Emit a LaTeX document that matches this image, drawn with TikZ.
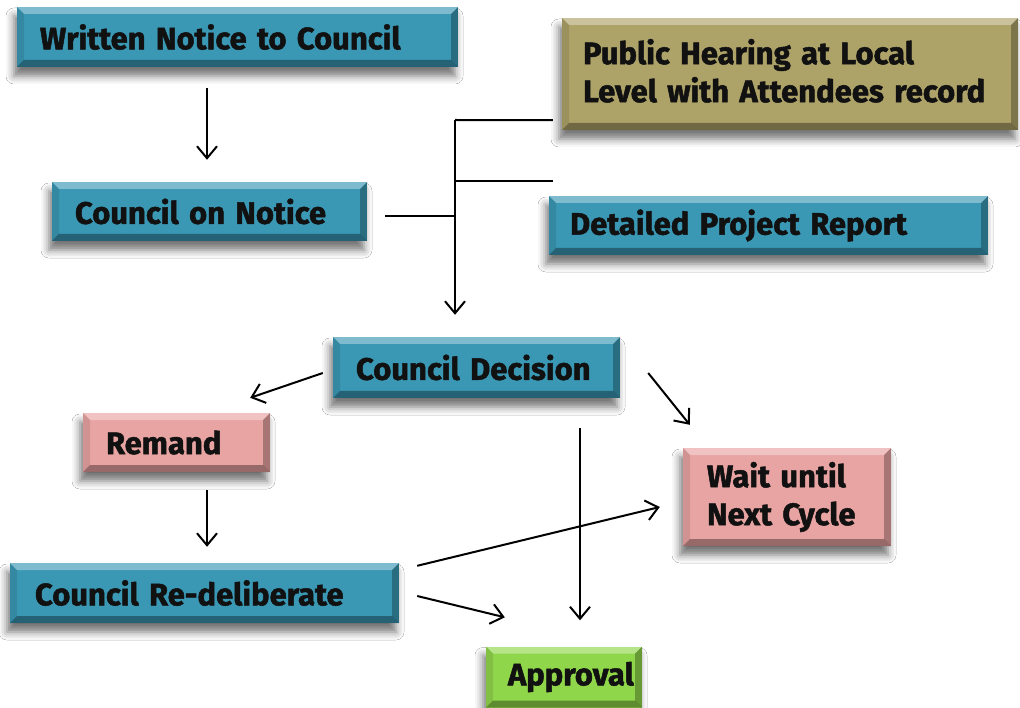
\documentclass[tikz,border=0pt]{standalone}
\usepackage{fontspec}
\setmainfont{Fira Sans}[BoldFeatures={FakeBold=1.6}]
\usetikzlibrary{arrows.meta,shadows.blur}
\definecolor{teal1}{HTML}{3A98B4}
\definecolor{olive1}{HTML}{ADA268}
\definecolor{pink1}{HTML}{E8A4A2}
\definecolor{green1}{HTML}{90D64A}
\definecolor{ink}{HTML}{111111}
\tikzset{
  box/.style={fill=#1, draw=none, rectangle, inner xsep=23pt, inner ysep=0pt,
    font=\fontsize{31}{38}\selectfont\bfseries, text=ink, align=left,
    blur shadow={shadow xshift=-3pt, shadow yshift=-9pt, shadow blur radius=8pt, shadow opacity=55},
    path picture={
      \coordinate (pnw) at (path picture bounding box.north west);
      \coordinate (pne) at (path picture bounding box.north east);
      \coordinate (psw) at (path picture bounding box.south west);
      \coordinate (pse) at (path picture bounding box.south east);
      \fill[white,opacity=.35] (pnw) -- (pne) -- ([xshift=-7pt,yshift=-7pt]pne) -- ([xshift=7pt,yshift=-7pt]pnw) -- cycle;
      \fill[black,opacity=.35] (psw) -- (pse) -- ([xshift=-7pt,yshift=7pt]pse) -- ([xshift=7pt,yshift=7pt]psw) -- cycle;
      \fill[black,opacity=.10] (pnw) -- (psw) -- ([xshift=7pt,yshift=7pt]psw) -- ([xshift=7pt,yshift=-7pt]pnw) -- cycle;
      \fill[black,opacity=.28] (pne) -- (pse) -- ([xshift=-7pt,yshift=7pt]pse) -- ([xshift=-7pt,yshift=-7pt]pne) -- cycle;
    }},
  ln/.style={line width=2pt, draw=black},
  arr/.style={ln, -{Straight Barb[length=12pt,width=20pt,line width=2pt]}}
}
\begin{document}
\begin{tikzpicture}[x=1pt,y=-1pt]
\useasboundingbox[fill=white] (0,0) rectangle (1020,708);

\node[box=teal1, minimum width=441pt, minimum height=60pt, text width=395pt] (wn) at (237.5,37) {Written Notice to Council};
\node[box=teal1, minimum width=315pt, minimum height=59pt, text width=269pt] (cn) at (209.5,211.5) {Council on Notice};
\node[box=olive1, minimum width=456pt, minimum height=112pt, text width=414pt, inner xsep=21pt] (ph) at (790,74) {Public Hearing at Local\\Level with Attendees record\vphantom{p}\\[-12pt]};
\node[box=teal1, minimum width=439pt, minimum height=59pt, text width=397pt, inner xsep=21pt] (dpr) at (768.5,225.5) {Detailed Project Report};
\node[box=teal1, minimum width=287pt, minimum height=61pt, text width=241pt] (cd) at (476.5,367.5) {Council Decision};
\node[box=pink1, minimum width=187pt, minimum height=59pt, text width=141pt] (rm) at (176.5,442.5) {Remand};
\node[box=teal1, minimum width=385pt, minimum height=60pt, text width=339pt, inner xsep=25pt] (rd) at (204.5,593) {Council Re-deliberate};
\node[box=pink1, minimum width=208pt, minimum height=98pt, text width=160pt, inner xsep=24pt] (wt) at (787,497) {Wait until\\Next Cycle};
\node[box=green1, minimum width=156pt, minimum height=61pt, text width=112pt, inner xsep=22pt] (ap) at (564,677) {Approval};

% Written notice -> council on notice
\draw[arr] ([xshift=-30.5pt,yshift=-21pt]wn.south) -- ([xshift=-2.5pt,yshift=22pt]cn.north);

% bracket joining inputs to council decision
\coordinate (bus) at (455,120);
\draw[ln] ([xshift=-9pt,yshift=10pt]ph.south west) -- (bus);
\draw[ln] ([xshift=4pt,yshift=15pt]dpr.north west) coordinate (d1) -- (d1 -| bus);
\draw[ln] ([xshift=18pt,yshift=-4.5pt]cn.east) coordinate (c1) -- (c1 -| bus);
\draw[arr] (bus) -- ([xshift=-21.5pt,yshift=22pt]cd.north);

% council decision outputs
\draw[arr] ([xshift=-10pt,yshift=-5.5pt]cd.west) -- ([xshift=-20pt,yshift=15pt]rm.north east);
\draw[arr] ([xshift=28pt,yshift=-5.5pt]cd.east) -- ([xshift=7pt,yshift=23pt]wt.north west);
\draw[arr] ([xshift=103.5pt,yshift=-30pt]cd.south) -- ([xshift=16pt,yshift=26pt]ap.north);

% remand -> re-deliberate
\draw[arr] ([xshift=30.5pt,yshift=-18pt]rm.south) -- ([xshift=2.5pt,yshift=16pt]rd.north);

% re-deliberate outputs
\draw[arr] ([xshift=18pt,yshift=-3pt]rd.north east) -- ([xshift=-23pt,yshift=-10pt]wt.west);
\draw[arr] ([xshift=18pt,yshift=-3pt]rd.east) -- ([xshift=19pt,yshift=29pt]ap.north west);
\end{tikzpicture}
\end{document}
